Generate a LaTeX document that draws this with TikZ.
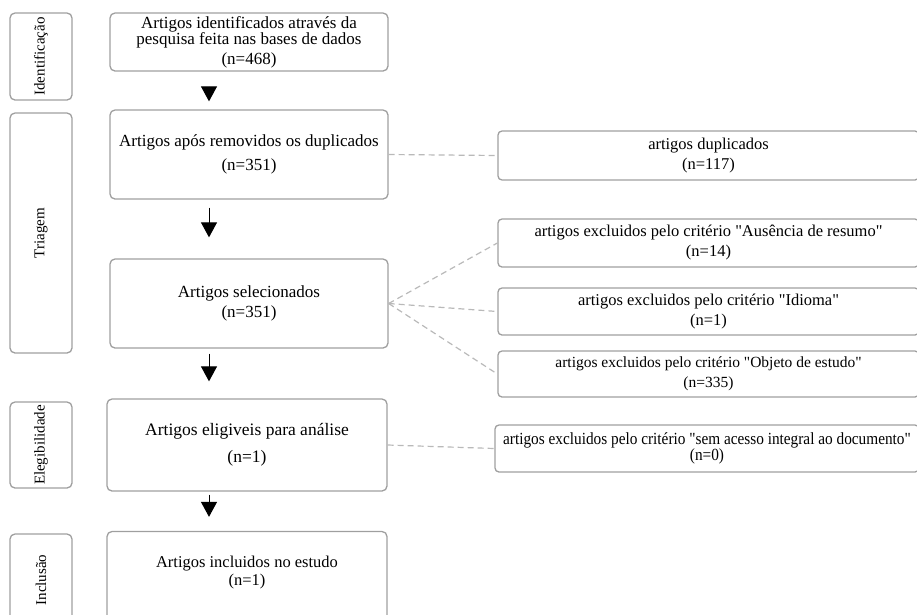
\documentclass[tikz,border=0pt]{standalone}
\usepackage{fontspec}
\setmainfont{Liberation Serif}[Ligatures=TeXOff]
\newfontfamily\narrowserif[FakeStretch=0.9]{Liberation Serif}
\usetikzlibrary{arrows.meta}

\begin{document}
\begin{tikzpicture}[x=1pt, y=-1pt,
    phase/.style={draw=gray!75, line width=1.3pt, rounded corners=5pt, rotate=90,
        minimum height=62pt, inner sep=0pt, font=\fontsize{15}{16}\selectfont},
    stagebox/.style={draw=gray!75, line width=1.3pt, rounded corners=5pt, align=center,
        inner sep=0pt, font=\fontsize{17}{20}\selectfont},
    outbox/.style={draw=gray!75, line width=1.3pt, rounded corners=4pt, align=center,
        minimum width=421pt, inner sep=0pt, font=\fontsize{16.5}{20}\selectfont},
    flow/.style={line width=1pt, -{Triangle[width=16pt, length=15pt]}},
    skip/.style={draw=gray!55, line width=1.2pt, dash pattern=on 6pt off 4pt}]
    \useasboundingbox (0,0) rectangle (917,614);
    \clip (0,0) rectangle (917,614);

    % Phases
    \node[phase, minimum width=87pt] (ident) at (41, 56.5) {Identificação};
    \node[phase, minimum width=240pt] (triag) at (41, 233) {Triagem};
    \node[phase, minimum width=86pt] (eleg) at (41, 445) {Elegibilidade};
    \node[phase, minimum width=92pt] (incl) at (41, 580) {Inclusão};

    % Main flow
    \node[stagebox, minimum width=278pt, minimum height=58pt, font=\fontsize{17}{15.5}\selectfont]
        (found) at (249, 42) {Artigos identificados através da\\pesquisa feita nas bases de dados\\[4pt](n=468)};
    \node[stagebox, minimum width=278pt, minimum height=89pt]
        (nodup) at (249, 154.5) {Artigos após removidos os duplicados\\[4pt](n=351)};
    \node[stagebox, minimum width=278pt, minimum height=89pt]
        (sel) at (249, 303.5) {Artigos selecionados\\(n=351)};
    \node[stagebox, minimum width=280pt, minimum height=92pt, font=\fontsize{17.5}{20}\selectfont]
        (elig) at (247, 445) {Artigos eligiveis para análise\\[7pt](n=1)};
    \node[stagebox, minimum width=280pt, minimum height=93pt, font=\fontsize{16.5}{18}\selectfont]
        (incl1) at (247, 578) {Artigos incluidos no estudo\\(n=1)\\[-4pt]};

    % Excluded
    \node[outbox, minimum height=49pt] (dup) at (708.5, 155.5) {artigos duplicados\\(n=117)};
    \node[outbox, minimum height=48pt] (resumo) at (708.5, 243) {artigos excluidos pelo critério "Ausência de resumo"\\(n=14)};
    \node[outbox, minimum height=47pt] (idioma) at (708.5, 311.5) {artigos excluidos pelo critério "Idioma"\\(n=1)};
    \node[outbox, minimum height=46pt, font=\fontsize{15.5}{20}\selectfont]
        (objeto) at (708.5, 374) {artigos excluidos pelo critério "Objeto de estudo"\\(n=335)};
    \node[outbox, minimum width=424pt, minimum height=47pt, font=\narrowserif\fontsize{17}{13}\selectfont]
        (acesso) at (707, 448.5) {artigos excluidos pelo critério "sem acesso integral ao documento"\\(n=0)};

    % Arrows
    \coordinate (ax) at (209, 0);
    \draw[flow, shorten <=15pt, shorten >=8pt] (found.south -| ax) -- (nodup.north -| ax);
    \draw[flow, shorten <=8pt, shorten >=21pt] (nodup.south -| ax) -- (sel.north -| ax);
    \draw[flow, shorten <=5pt, shorten >=17pt] (sel.south -| ax) -- (elig.north -| ax);
    \draw[flow, shorten <=3pt, shorten >=14pt] (elig.south -| ax) -- (incl1.north -| ax);

    % Dashed links
    \draw[skip] (nodup.east) -- (dup.west);
    \draw[skip] (sel.east) -- (resumo.west);
    \draw[skip] (sel.east) -- (idioma.west);
    \draw[skip] (sel.east) -- (objeto.west);
    \draw[skip] (elig.east) -- (acesso.west);
\end{tikzpicture}
\end{document}
